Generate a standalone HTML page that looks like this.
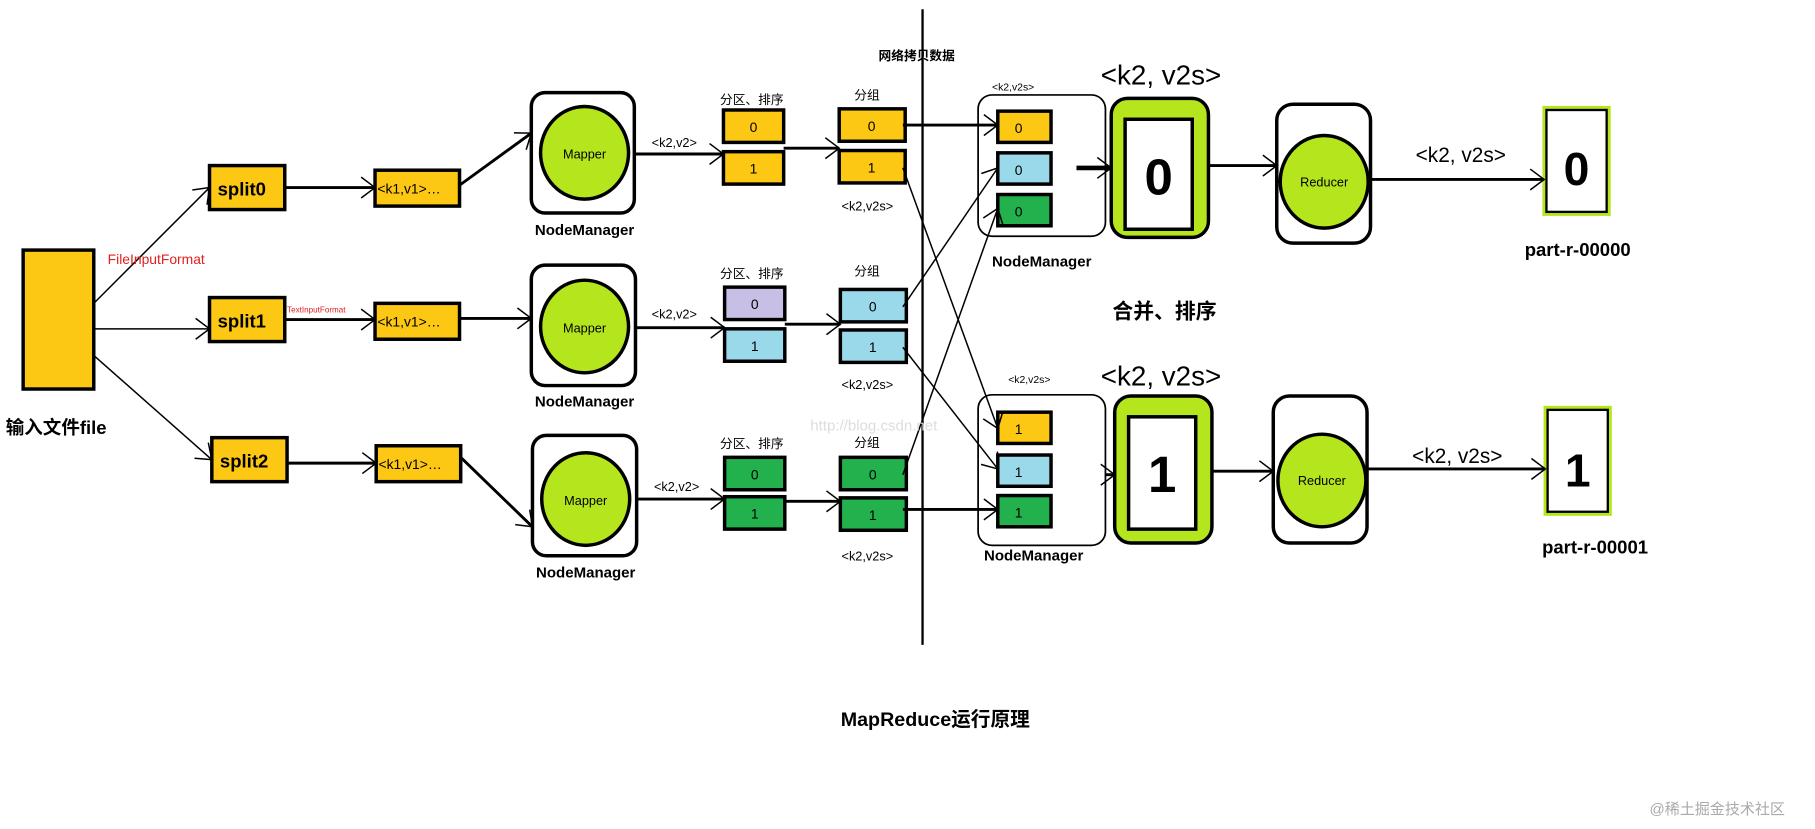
<!DOCTYPE html>
<html><head><meta charset="utf-8"><style>
html,body{margin:0;padding:0;background:#fff;}
svg{display:block;}
text{font-family:"Liberation Sans","Noto Sans CJK SC",sans-serif;}
</style></head><body>
<svg width="1815" height="829" viewBox="0 0 1568 716" preserveAspectRatio="none" xmlns="http://www.w3.org/2000/svg">
<defs>
<marker id="a" markerWidth="14" markerHeight="20" refX="13" refY="10" orient="auto" markerUnits="userSpaceOnUse">
<path d="M1,1 L13,10 L1,19" fill="none" stroke="#000" stroke-width="1.3"/>
</marker>
</defs>
<rect width="1568" height="716" fill="#fff"/>
<g stroke="#000" stroke-width="3">
<rect x="20" y="216" width="61" height="120" fill="#fdc813"/>
<rect x="181" y="143" width="65" height="38" fill="#fdc813"/>
<rect x="181" y="257" width="65" height="38" fill="#fdc813"/>
<rect x="183" y="378" width="65" height="38" fill="#fdc813"/>
<rect x="324" y="147" width="73" height="31" fill="#fdc813"/>
<rect x="324" y="262" width="73" height="31" fill="#fdc813"/>
<rect x="325" y="385" width="73" height="31" fill="#fdc813"/>
<rect x="459" y="80" width="89" height="104" rx="12" fill="#fff"/>
<rect x="459" y="229" width="90" height="104" rx="12" fill="#fff"/>
<rect x="460" y="376" width="90" height="104" rx="12" fill="#fff"/>
<ellipse cx="505" cy="132" rx="38" ry="40" fill="#b5e61d"/>
<ellipse cx="505" cy="282" rx="38" ry="40" fill="#b5e61d"/>
<ellipse cx="506" cy="431" rx="38" ry="40" fill="#b5e61d"/>
<rect x="625" y="95" width="52" height="28" fill="#fdc813"/>
<rect x="625" y="131" width="52" height="28" fill="#fdc813"/>
<rect x="626" y="248" width="52" height="28" fill="#c8bfe7"/>
<rect x="626" y="284" width="52" height="28" fill="#99d9ea"/>
<rect x="626" y="395" width="52" height="28" fill="#22b14c"/>
<rect x="626" y="429" width="52" height="28" fill="#22b14c"/>
<rect x="725" y="94" width="57" height="28" fill="#fdc813"/>
<rect x="725" y="130" width="57" height="28" fill="#fdc813"/>
<rect x="726" y="250" width="57" height="28" fill="#99d9ea"/>
<rect x="726" y="285" width="57" height="28" fill="#99d9ea"/>
<rect x="726" y="395" width="57" height="28" fill="#22b14c"/>
<rect x="726" y="430" width="57" height="28" fill="#22b14c"/>
</g>
<line x1="797" y1="8" x2="797" y2="557" stroke="#000" stroke-width="2"/>
<g stroke="#000" stroke-width="1.5">
<rect x="845" y="82" width="110" height="122" rx="12" fill="#fff"/>
<rect x="845" y="341" width="110" height="130" rx="12" fill="#fff"/>
</g>
<g stroke="#000" stroke-width="3">
<rect x="862" y="96" width="46" height="27" fill="#fdc813"/>
<rect x="862" y="132" width="46" height="27" fill="#99d9ea"/>
<rect x="862" y="168" width="46" height="27" fill="#22b14c"/>
<rect x="862" y="356" width="46" height="27" fill="#fdc813"/>
<rect x="862" y="393" width="46" height="27" fill="#99d9ea"/>
<rect x="862" y="428" width="46" height="27" fill="#22b14c"/>
<rect x="960" y="85" width="84" height="120" rx="14" fill="#b5e61d"/>
<rect x="972" y="103" width="58" height="95" fill="#fff"/>
<rect x="963" y="342" width="84" height="127" rx="14" fill="#b5e61d"/>
<rect x="975" y="360" width="58" height="97" fill="#fff"/>
<rect x="1103" y="90" width="81" height="120" rx="14" fill="#fff"/>
<rect x="1100" y="342" width="81" height="127" rx="14" fill="#fff"/>
<ellipse cx="1144" cy="157" rx="38" ry="40" fill="#b5e61d"/>
<ellipse cx="1142" cy="415" rx="38" ry="40" fill="#b5e61d"/>
<rect x="1334" y="93" width="56" height="92" fill="#fff" stroke="#b5e61d"/>
<rect x="1336" y="95" width="52" height="88" fill="none" stroke="#000" stroke-width="2"/>
<rect x="1335" y="352" width="56" height="92" fill="#fff" stroke="#b5e61d"/>
<rect x="1337" y="354" width="52" height="88" fill="none" stroke="#000" stroke-width="2"/>
</g>
<g stroke="#000" stroke-width="1.3" fill="none" marker-end="url(#a)">
<line x1="81" y1="262" x2="181" y2="162"/>
<line x1="81" y1="284" x2="181" y2="284"/>
<line x1="81" y1="307" x2="183" y2="397"/>
<line x1="780" y1="145" x2="862" y2="370"/>
<line x1="780" y1="265" x2="862" y2="145"/>
<line x1="780" y1="300" x2="862" y2="405"/>
<line x1="780" y1="410" x2="862" y2="180"/>
</g>
<g stroke="#000" stroke-width="2.5" fill="none" marker-end="url(#a)">
<line x1="246" y1="162" x2="324" y2="162"/>
<line x1="246" y1="276" x2="324" y2="276"/>
<line x1="248" y1="400" x2="325" y2="400"/>
<line x1="397" y1="160" x2="459" y2="115"/>
<line x1="397" y1="275" x2="459" y2="275"/>
<line x1="398" y1="395" x2="460" y2="455"/>
<line x1="548" y1="133" x2="625" y2="133"/>
<line x1="549" y1="283" x2="626" y2="283"/>
<line x1="550" y1="431" x2="626" y2="431"/>
<line x1="677" y1="128" x2="725" y2="128"/>
<line x1="678" y1="280" x2="726" y2="280"/>
<line x1="678" y1="433" x2="726" y2="433"/>
<line x1="780" y1="108" x2="862" y2="108"/>
<line x1="780" y1="440" x2="862" y2="440"/>
<line x1="955" y1="145" x2="960" y2="145" stroke-width="4"/>
<line x1="955" y1="410" x2="963" y2="410"/>
<line x1="1044" y1="143" x2="1103" y2="143"/>
<line x1="1047" y1="407" x2="1100" y2="407"/>
<line x1="1184" y1="155" x2="1334" y2="155"/>
<line x1="1181" y1="405" x2="1335" y2="405"/>
</g>
<line x1="930" y1="145" x2="958" y2="145" stroke="#000" stroke-width="4"/>
<g font-size="16" fill="#000" font-weight="bold">
<text x="188" y="169">split0</text>
<text x="188" y="283">split1</text>
<text x="190" y="404">split2</text>
<text x="5" y="375" font-size="16">输入文件file</text>
<text x="326" y="167" font-size="12" font-weight="normal">&lt;k1,v1&gt;…</text>
<text x="326" y="282" font-size="12" font-weight="normal">&lt;k1,v1&gt;…</text>
<text x="327" y="405" font-size="12" font-weight="normal">&lt;k1,v1&gt;…</text>
<text x="505" y="137" font-size="11" font-weight="normal" text-anchor="middle">Mapper</text>
<text x="505" y="287" font-size="11" font-weight="normal" text-anchor="middle">Mapper</text>
<text x="506" y="436" font-size="11" font-weight="normal" text-anchor="middle">Mapper</text>
<text x="505" y="203" font-size="13" text-anchor="middle">NodeManager</text>
<text x="505" y="351" font-size="13" text-anchor="middle">NodeManager</text>
<text x="506" y="499" font-size="13" text-anchor="middle">NodeManager</text>
<text x="900" y="230" font-size="13" text-anchor="middle">NodeManager</text>
<text x="893" y="484" font-size="13" text-anchor="middle">NodeManager</text>
</g>
<g font-size="11" fill="#000">
<text x="563" y="127">&lt;k2,v2&gt;</text>
<text x="563" y="275">&lt;k2,v2&gt;</text>
<text x="565" y="424">&lt;k2,v2&gt;</text>
<text x="622" y="90">分区、排序</text>
<text x="622" y="240">分区、排序</text>
<text x="622" y="387">分区、排序</text>
<text x="738" y="86">分组</text>
<text x="738" y="238">分组</text>
<text x="738" y="386">分组</text>
<text x="727" y="182">&lt;k2,v2s&gt;</text>
<text x="727" y="336">&lt;k2,v2s&gt;</text>
<text x="727" y="484">&lt;k2,v2s&gt;</text>
<text x="759" y="52" font-size="11" font-weight="bold">网络拷贝数据</text>
<text x="857" y="78" font-size="9">&lt;k2,v2s&gt;</text>
<text x="871" y="331" font-size="9">&lt;k2,v2s&gt;</text>
</g>
<g font-size="12" text-anchor="middle" fill="#000">
<text x="651" y="114">0</text><text x="651" y="150">1</text>
<text x="652" y="267">0</text><text x="652" y="303">1</text>
<text x="652" y="414">0</text><text x="652" y="448">1</text>
<text x="753" y="113">0</text><text x="753" y="149">1</text>
<text x="754" y="269">0</text><text x="754" y="304">1</text>
<text x="754" y="414">0</text><text x="754" y="449">1</text>
<text x="880" y="115">0</text><text x="880" y="151">0</text><text x="880" y="187">0</text>
<text x="880" y="375">1</text><text x="880" y="412">1</text><text x="880" y="447">1</text>
</g>
<text x="93" y="228" font-size="12" fill="#e02020">FileInputFormat</text>
<text x="248" y="270" font-size="7" fill="#e02020">TextInputFormat</text>
<g fill="#000" text-anchor="middle">
<text x="1001" y="168" font-size="44" font-weight="bold">0</text>
<text x="1004" y="425" font-size="44" font-weight="bold">1</text>
<text x="1362" y="160" font-size="40" font-weight="bold">0</text>
<text x="1363" y="420" font-size="40" font-weight="bold">1</text>
<text x="1144" y="161" font-size="11">Reducer</text>
<text x="1142" y="419" font-size="11">Reducer</text>
<text x="1003" y="73" font-size="24">&lt;k2, v2s&gt;</text>
<text x="1003" y="333" font-size="24">&lt;k2, v2s&gt;</text>
<text x="1262" y="140" font-size="18">&lt;k2, v2s&gt;</text>
<text x="1259" y="400" font-size="18">&lt;k2, v2s&gt;</text>
<text x="1363" y="221" font-size="16" font-weight="bold">part-r-00000</text>
<text x="1378" y="478" font-size="16" font-weight="bold">part-r-00001</text>
<text x="1006" y="275" font-size="18" font-weight="bold">合并、排序</text>
<text x="808" y="627" font-size="17" font-weight="bold">MapReduce运行原理</text>
</g>
<text x="700" y="372" font-size="13" fill="#ddd">http://blog.csdn.net</text>
<text x="1425" y="703" font-size="13" fill="#aaa">@稀土掘金技术社区</text>
</svg>
</body></html>
